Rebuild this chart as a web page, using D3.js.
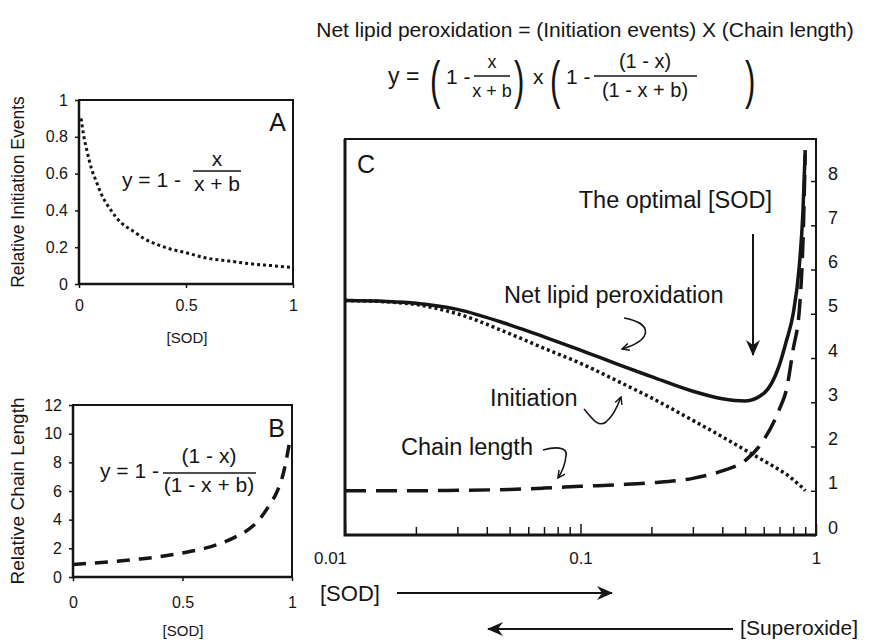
<!DOCTYPE html>
<html>
<head>
<meta charset="utf-8">
<script src="https://cdn.jsdelivr.net/npm/d3@7"></script>
<style>
  body { margin: 0; background: #fff; }
  text { font-family: "Liberation Sans", Arial, sans-serif; fill: #151515; }
</style>
</head>
<body>
<div id="chart"></div>
<script>
// ---- data ----
// panel A: relative initiation events vs [SOD]
var sodA  = [0.01, 0.02, 0.04, 0.06, 0.08, 0.1, 0.15, 0.2, 0.25, 0.3, 0.4, 0.5, 0.6, 0.7, 0.8, 0.9, 1.0];
var initA = [0.90, 0.82, 0.71, 0.62, 0.56, 0.50, 0.40, 0.33, 0.29, 0.25, 0.20, 0.17, 0.14, 0.125, 0.11, 0.10, 0.09];

// panel B: relative chain length vs [SOD]
var sodB   = [0, 0.1, 0.2, 0.3, 0.4, 0.5, 0.6, 0.7, 0.75, 0.8, 0.85, 0.9, 0.93, 0.96, 0.99];
var chainB = [0.88, 0.98, 1.10, 1.25, 1.43, 1.68, 2.0, 2.5, 2.86, 3.3, 4.0, 5.1, 5.9, 7.2, 9.5];

// panel C: log [SOD] axis
var sodC   = [0.01, 0.015, 0.02, 0.03, 0.05, 0.07, 0.1, 0.15, 0.2, 0.3, 0.4, 0.5, 0.6, 0.7, 0.75, 0.8, 0.85, 0.88, 0.9];
var initC  = [5.30, 5.27, 5.21, 5.00, 4.55, 4.22, 3.88, 3.43, 3.10, 2.59, 2.22, 1.92, 1.68, 1.47, 1.37, 1.25, 1.13, 1.06, 1.00];
var chainC = [1.00, 1.00, 1.00, 1.01, 1.03, 1.06, 1.10, 1.14, 1.18, 1.28, 1.45, 1.68, 2.15, 2.85, 3.30, 4.20, 5.10, 6.60, 8.60];
var netC   = [5.30, 5.28, 5.24, 5.10, 4.75, 4.48, 4.18, 3.82, 3.58, 3.25, 3.08, 3.03, 3.20, 3.85, 4.40, 5.00, 6.10, 7.30, 8.70];

// tick labels
var xTicksAB = [0, 0.5, 1];
var yTicksA  = [0, 0.2, 0.4, 0.6, 0.8, 1];
var yTicksB  = [0, 2, 4, 6, 8, 10, 12];
var yTicksC  = [0, 1, 2, 3, 4, 5, 6, 7, 8];
var xTicksC  = [0.01, 0.02, 0.03, 0.04, 0.05, 0.06, 0.07, 0.08, 0.09,
                0.1, 0.2, 0.3, 0.4, 0.5, 0.6, 0.7, 0.8, 0.9, 1];
var xLabelsC = [0.01, 0.1, 1];

var FONT = '"Liberation Sans", Arial, sans-serif';
var INK = "#151515";

var svg = d3.select("#chart").append("svg")
    .attr("width", 869)
    .attr("height", 640);

// arrow heads
var defs = svg.append("defs");
defs.append("marker")
    .attr("id", "stealth")
    .attr("viewBox", "0 0 16 16")
    .attr("refX", 15).attr("refY", 8)
    .attr("markerWidth", 16).attr("markerHeight", 16)
    .attr("markerUnits", "userSpaceOnUse")
    .attr("orient", "auto")
    .append("path")
    .attr("d", "M0,1 L16,8 L0,15 L5,8 Z")
    .attr("fill", INK);
defs.append("marker")
    .attr("id", "vhead")
    .attr("viewBox", "0 0 10 10")
    .attr("refX", 9).attr("refY", 5)
    .attr("markerWidth", 9).attr("markerHeight", 9)
    .attr("markerUnits", "userSpaceOnUse")
    .attr("orient", "auto")
    .append("path")
    .attr("d", "M1,1 L9,5 L1,9")
    .attr("fill", "none")
    .attr("stroke", INK)
    .attr("stroke-width", 1.6);

function styleAxis(g, size) {
    g.attr("font-family", FONT).attr("font-size", size);
    g.select(".domain").remove();
    g.selectAll(".tick line").attr("stroke", INK).attr("stroke-width", 1.5);
    g.selectAll(".tick text").attr("fill", INK);
}

function box(g, x, y, thick) {
    var x0 = x.range()[0], x1 = x.range()[1];
    var y0 = y.range()[0], y1 = y.range()[1];
    g.append("rect")
        .attr("x", x0).attr("y", y1)
        .attr("width", x1 - x0).attr("height", y0 - y1)
        .attr("fill", "none").attr("stroke", INK).attr("stroke-width", 2);
    g.append("path")
        .attr("d", "M" + x0 + "," + y1 + "V" + y0 + "H" + x1)
        .attr("fill", "none").attr("stroke", INK).attr("stroke-width", thick);
}

function txt(g, x, y, s, size, anchor) {
    return g.append("text")
        .attr("x", x).attr("y", y)
        .attr("font-size", size)
        .attr("text-anchor", anchor || "start")
        .text(s);
}

// fraction: numerator baseline, bar, denominator baseline, centred at cx
function fraction(g, cx, barY, x0, x1, num, den, size, numY, denY) {
    txt(g, cx, numY, num, size, "middle");
    g.append("line").attr("x1", x0).attr("x2", x1)
        .attr("y1", barY).attr("y2", barY)
        .attr("stroke", INK).attr("stroke-width", 1.3);
    txt(g, cx, denY, den, size, "middle");
}

// tall, thin bracket glyph
function bigParen(g, x, y, s) {
    g.append("text")
        .attr("transform", "translate(" + x + "," + y + ") scale(0.6,1)")
        .attr("font-size", 52)
        .text(s);
}

// ---- title and combined formula ----
var head = svg.append("g");
txt(head, 585, 37, "Net lipid peroxidation = (Initiation events) X (Chain length)", 21, "middle");

txt(head, 388, 84, "y  =", 23);
bigParen(head, 430, 98, "(");
txt(head, 446, 84, "1 -", 21);
fraction(head, 492, 76, 474, 510, "x", "x + b", 18, 68, 97);
bigParen(head, 514, 98, ")");
txt(head, 533, 84, "x", 21);
bigParen(head, 550, 98, "(");
txt(head, 566, 84, "1 -", 21);
fraction(head, 645, 76, 594, 697, "(1 - x)", "(1 - x + b)", 20, 68, 97);
bigParen(head, 745, 98, ")");

// ---- panel A ----
var xA = d3.scaleLinear().domain([0, 1]).range([79, 293]);
var yA = d3.scaleLinear().domain([0, 1]).range([284, 100]);
var gA = svg.append("g");

gA.append("g")
    .attr("transform", "translate(0," + yA(0) + ")")
    .call(d3.axisBottom(xA).tickValues(xTicksAB).tickSize(4).tickPadding(12).tickFormat(d3.format("")))
    .call(styleAxis, 16);
gA.append("g")
    .attr("transform", "translate(" + xA(0) + ",0)")
    .call(d3.axisLeft(yA).tickValues(yTicksA).tickSize(4).tickPadding(7).tickFormat(d3.format("")))
    .call(styleAxis, 16);
box(gA, xA, yA, 2.5);

gA.append("path")
    .datum(d3.zip(sodA, initA))
    .attr("fill", "none")
    .attr("stroke", INK)
    .attr("stroke-width", 3)
    .attr("stroke-dasharray", "3,3")
    .attr("d", d3.line().x(function(d) { return xA(d[0]); }).y(function(d) { return yA(d[1]); }).curve(d3.curveMonotoneX));

txt(gA, 286, 131, "A", 25, "end");
txt(gA, 122, 187, "y = 1 -", 21);
fraction(gA, 217, 171, 193, 241, "x", "x + b", 21, 166, 191);
txt(gA, 187, 343, "[SOD]", 15, "middle");
txt(gA, 0, 0, "Relative Initiation Events", 17.5, "middle")
    .attr("transform", "translate(24," + ((yA(0) + yA(1)) / 2) + ") rotate(-90)");

// ---- panel B ----
var xB = d3.scaleLinear().domain([0, 1]).range([73, 292]);
var yB = d3.scaleLinear().domain([0, 12]).range([577, 405]);
var gB = svg.append("g");

gB.append("g")
    .attr("transform", "translate(0," + yB(0) + ")")
    .call(d3.axisBottom(xB).tickValues(xTicksAB).tickSize(4).tickPadding(16).tickFormat(d3.format("")))
    .call(styleAxis, 16);
gB.append("g")
    .attr("transform", "translate(" + xB(0) + ",0)")
    .call(d3.axisLeft(yB).tickValues(yTicksB).tickSize(4).tickPadding(7))
    .call(styleAxis, 16);
box(gB, xB, yB, 2.5);

gB.append("path")
    .datum(d3.zip(sodB, chainB))
    .attr("fill", "none")
    .attr("stroke", INK)
    .attr("stroke-width", 3.5)
    .attr("stroke-dasharray", "13,9")
    .attr("d", d3.line().x(function(d) { return xB(d[0]); }).y(function(d) { return yB(d[1]); }).curve(d3.curveMonotoneX));

txt(gB, 285, 437, "B", 25, "end");
txt(gB, 100, 478, "y = 1 -", 21);
fraction(gB, 209, 473, 163, 256, "(1 - x)", "(1 - x + b)", 21, 463, 492);
txt(gB, 183, 636, "[SOD]", 15, "middle");
txt(gB, 0, 0, "Relative Chain Length", 19, "middle")
    .attr("transform", "translate(24," + ((yB(0) + yB(12)) / 2) + ") rotate(-90)");

// ---- panel C ----
var xC = d3.scaleLog().domain([0.01, 1]).range([345, 816]);
var yC = d3.scaleLinear().domain([0, 8.95]).range([535, 139]);
var gC = svg.append("g");

var axC = gC.append("g")
    .attr("transform", "translate(0," + yC(0) + ")")
    .call(d3.axisBottom(xC).tickValues(xTicksC).tickSizeInner(-8).tickSizeOuter(0).tickPadding(17)
        .tickFormat(function(d) { return xLabelsC.indexOf(d) >= 0 ? String(d) : ""; }))
    .call(styleAxis, 17);
axC.selectAll(".tick line")
    .filter(function(d) { return xLabelsC.indexOf(d) >= 0; })
    .attr("y2", -11);
// first label is pushed left of its tick, as in the original
axC.selectAll(".tick text")
    .filter(function(d) { return d === xLabelsC[0]; })
    .attr("dx", -15);

// right-hand value axis: labels sit a little above their ticks
gC.append("g")
    .attr("transform", "translate(" + xC(1) + ",0)")
    .call(d3.axisRight(yC).tickValues(yTicksC).tickSizeInner(-5).tickSizeOuter(0).tickPadding(12))
    .call(styleAxis, 18)
    .selectAll(".tick text").attr("dy", -2);
box(gC, xC, yC, 3);

var lineC = function(ys) {
    return d3.line()
        .x(function(d, i) { return xC(sodC[i]); })
        .y(function(d) { return yC(d); })
        .curve(d3.curveMonotoneX)(ys);
};
gC.append("path").attr("d", lineC(chainC))
    .attr("fill", "none").attr("stroke", INK).attr("stroke-width", 3.5)
    .attr("stroke-dasharray", "21,10");
gC.append("path").attr("d", lineC(initC))
    .attr("fill", "none").attr("stroke", INK).attr("stroke-width", 3.5)
    .attr("stroke-dasharray", "3,3");
gC.append("path").attr("d", lineC(netC))
    .attr("fill", "none").attr("stroke", INK).attr("stroke-width", 3.5);

txt(gC, 357, 173, "C", 25);

// annotations
txt(gC, 772, 208, "The optimal [SOD]", 23.5, "end");
gC.append("line")
    .attr("x1", 753).attr("x2", 753).attr("y1", 234).attr("y2", 355)
    .attr("stroke", INK).attr("stroke-width", 2)
    .attr("marker-end", "url(#stealth)");

txt(gC, 504, 303, "Net lipid peroxidation", 23.5);
gC.append("path")
    .attr("d", "M624,318 C652,323 654,339 622,349")
    .attr("fill", "none").attr("stroke", INK).attr("stroke-width", 1.6)
    .attr("marker-end", "url(#vhead)");

txt(gC, 490, 406, "Initiation", 23.5);
gC.append("path")
    .attr("d", "M584,409 C592,418 598,428 606,422 C612,417 617,408 621,397")
    .attr("fill", "none").attr("stroke", INK).attr("stroke-width", 1.6)
    .attr("marker-end", "url(#vhead)");

txt(gC, 401, 455, "Chain length", 23.5);
gC.append("path")
    .attr("d", "M543,450 C554,447 568,446 566,456 C565,465 562,472 558,478")
    .attr("fill", "none").attr("stroke", INK).attr("stroke-width", 1.6)
    .attr("marker-end", "url(#vhead)");

// direction arrows under the axis
txt(svg, 320, 601, "[SOD]", 22);
svg.append("line")
    .attr("x1", 397).attr("x2", 612).attr("y1", 593).attr("y2", 593)
    .attr("stroke", INK).attr("stroke-width", 2)
    .attr("marker-end", "url(#stealth)");
txt(svg, 858, 635, "[Superoxide]", 21, "end");
svg.append("line")
    .attr("x1", 733).attr("x2", 488).attr("y1", 629).attr("y2", 629)
    .attr("stroke", INK).attr("stroke-width", 2)
    .attr("marker-end", "url(#stealth)");
</script>
</body>
</html>
